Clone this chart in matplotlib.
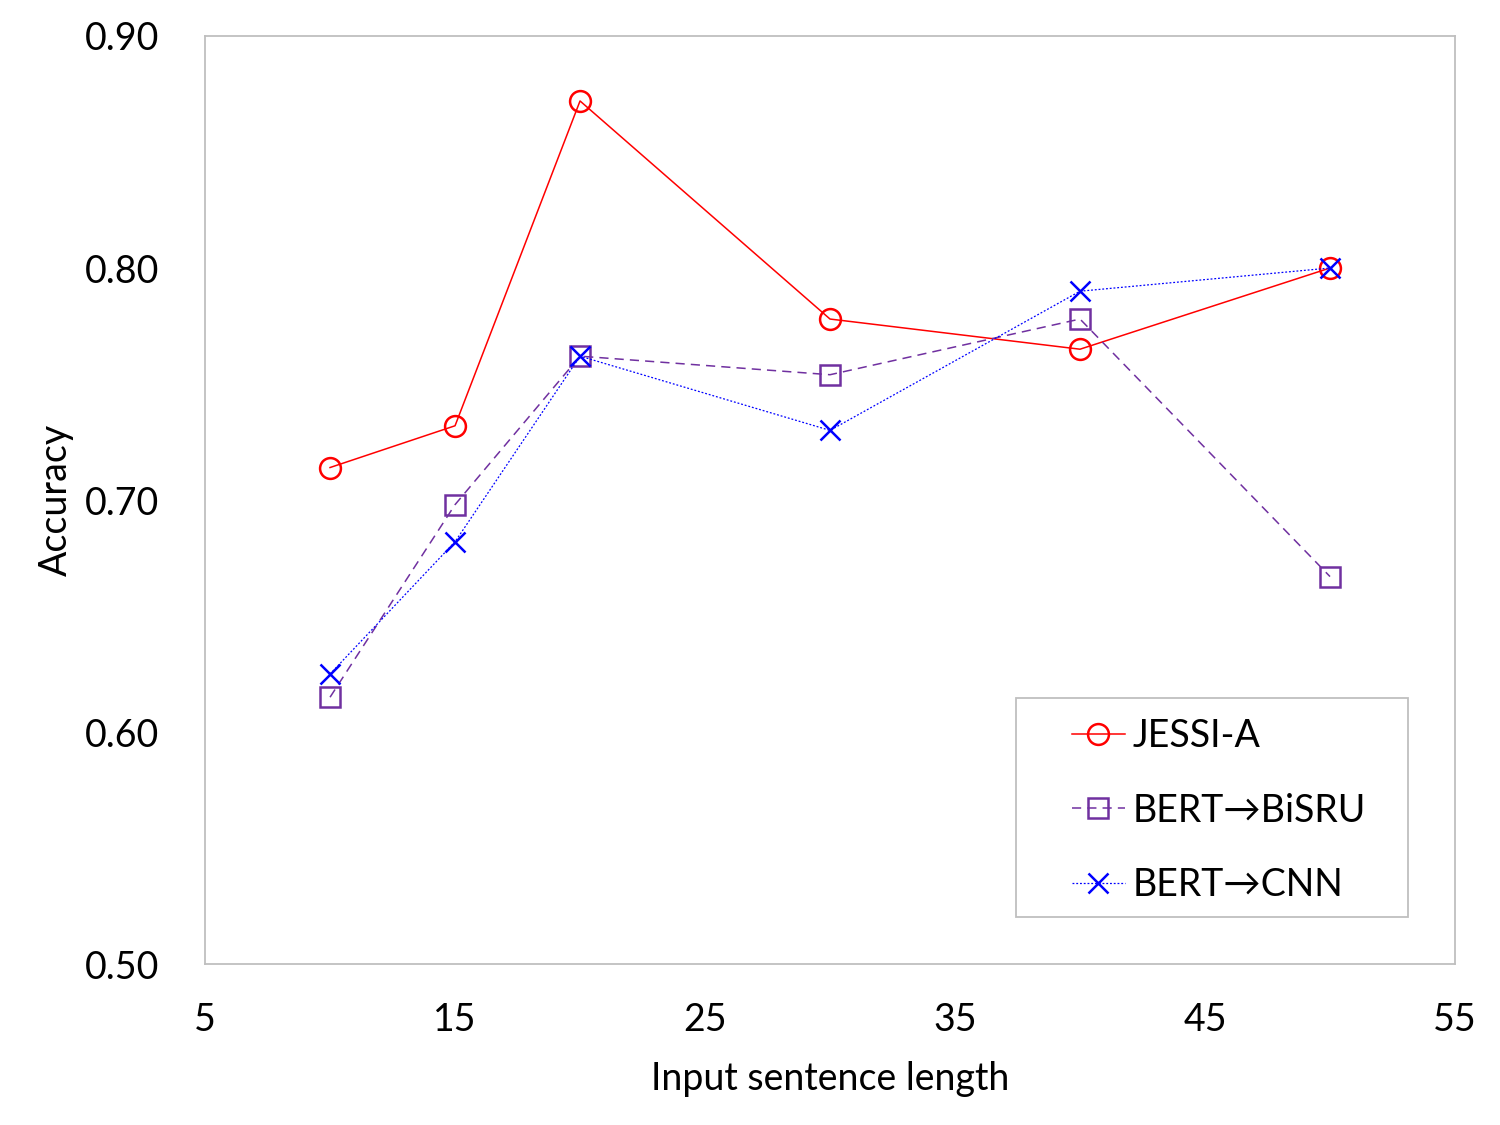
import matplotlib.pyplot as plt
from matplotlib.patches import Rectangle

plt.rcParams['font.family'] = ['Lato', 'DejaVu Sans']

# data
lengths = [10, 15, 20, 30, 40, 50]
jessi_a = [0.714, 0.732, 0.872, 0.778, 0.765, 0.800]
bert_bisru = [0.615, 0.698, 0.762, 0.754, 0.778, 0.667]
bert_cnn = [0.625, 0.682, 0.762, 0.730, 0.790, 0.800]

xticks = [5, 15, 25, 35, 45, 55]
yticks = [0.50, 0.60, 0.70, 0.80, 0.90]

fig = plt.figure(figsize=(15, 11.25), dpi=100)
ax = fig.add_axes([0.1367, 0.1431, 0.8333, 0.8249])

ax.plot(lengths, jessi_a, color='red', lw=1.1, marker='o', ms=15,
        mfc='none', mec='red', mew=1.8, label='JESSI-A')
ax.plot(lengths, bert_bisru, color='#7030A0', lw=1.1, ls=(0, (6, 4)),
        marker='s', ms=15, mfc='none', mec='#7030A0', mew=1.8,
        label='BERT\u2192BiSRU')
ax.plot(lengths, bert_cnn, color='blue', lw=0.9, ls=(0, (1.5, 1.5)),
        marker='x', ms=15, mec='blue', mew=1.8, label='BERT\u2192CNN')

ax.set_xlim(5, 55)
ax.set_ylim(0.50, 0.90)
ax.set_xticks(xticks)
ax.set_yticks(yticks)
ax.set_yticklabels(['%.2f' % v for v in yticks])
ax.tick_params(labelsize=27, length=0)
ax.tick_params(axis='x', pad=27)
ax.tick_params(axis='y', pad=33)
for s in ax.spines.values():
    s.set_color('#BFBFBF')
    s.set_linewidth(1.3)

ax.set_xlabel('Input sentence length', fontsize=27, labelpad=17)
ax.set_ylabel('Accuracy', fontsize=27, labelpad=8)

# legend frame drawn separately so the padding can differ per side
ax.add_patch(Rectangle((0.6488, 0.0506), 0.3136, 0.236, transform=ax.transAxes,
                       fill=False, edgecolor='#BFBFBF', lw=1.3, zorder=5))
leg = ax.legend(loc='upper left', bbox_to_anchor=(0.6936, 0.2651), fontsize=27,
                frameon=False, borderpad=0, labelspacing=1.03,
                handlelength=1.41, handletextpad=0.2, borderaxespad=0)

fig.savefig('out.png', dpi=100)
